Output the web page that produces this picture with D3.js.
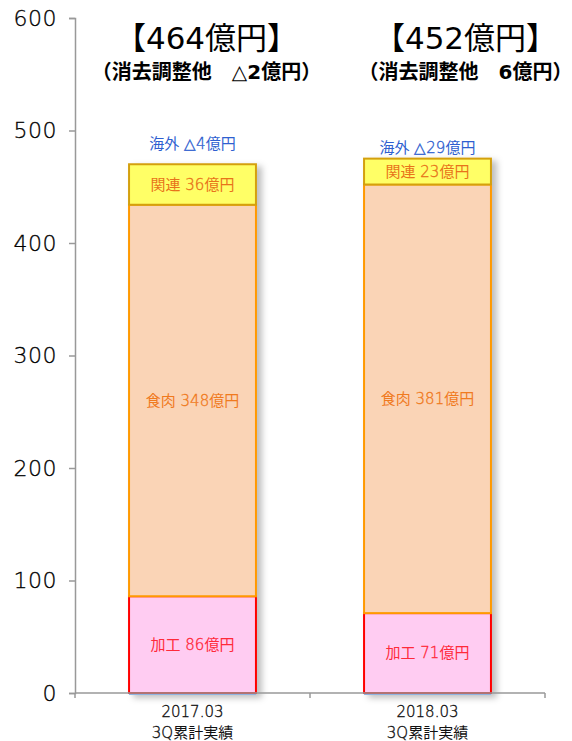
<!DOCTYPE html>
<html><head><meta charset="utf-8">
<script src="https://cdn.jsdelivr.net/npm/d3@7"></script>
<style>
body{margin:0;background:#fff;}
svg{display:block;font-family:"DejaVu Sans","Noto Sans CJK JP",sans-serif;}
</style></head><body>
<svg id="c" width="572" height="741"></svg>
<script>
const categories = ["2017.03\n3Q累計実績", "2018.03\n3Q累計実績"];
const kakou = [86, 71];
const shokuniku = [348, 381];
const kanren = [36, 23];
const kaigai = [-4, -29];
const shokyo = [-2, 6];
const totals = [464, 452];
const yTicks = [0, 100, 200, 300, 400, 500, 600];

const svg = d3.select("#c");
const mLeft = 75, mRight = 545, mTop = 18, mBottom = 693;
const y = d3.scaleLinear().domain([0, 600]).range([mBottom, mTop]);
const x = d3.scaleBand().domain(categories).range([mLeft, mRight]).paddingInner(0.46).paddingOuter(0.23);

const defs = svg.append("defs");
const f = defs.append("filter").attr("id","sh").attr("x","-20%").attr("y","-20%").attr("width","150%").attr("height","150%");
f.append("feDropShadow").attr("dx",5).attr("dy",3).attr("stdDeviation",3).attr("flood-color","#000").attr("flood-opacity",0.25);

// write text with latin digits in thin DejaVu, CJK in Noto
function rich(sel, str, color){
  const runs = str.match(/[\x20-\x7E△]+|[^\x20-\x7E△]+/g) || [];
  runs.forEach(r=>{
    const t = sel.append("tspan").text(r);
    if (/^[\x20-\x7E△]+$/.test(r)) {
      t.attr("font-family","'DejaVu Sans',sans-serif").attr("font-weight",200)
       .attr("stroke",color).attr("stroke-width",0.35);
    } else {
      t.attr("font-family","'Noto Sans CJK JP',sans-serif");
    }
  });
  return sel;
}

const ya = svg.append("g").attr("transform",`translate(${mLeft},0)`)
  .call(d3.axisLeft(y).tickValues(yTicks).tickSize(6).tickPadding(12));
ya.select(".domain").attr("stroke","#999").attr("stroke-width",1.5);
ya.selectAll(".tick line").attr("stroke","#999").attr("stroke-width",1.5);
ya.selectAll(".tick text").attr("font-size",22).attr("fill","#000").attr("font-family","'DejaVu Sans',sans-serif").attr("font-weight",200).attr("letter-spacing",0.5).attr("stroke","#000").attr("stroke-width",0.3);

const series = [
  {name:"加工", vals:kakou, fill:"#FFCCF2", stroke:"#FF0000", text:"#FF2A3A"},
  {name:"食肉", vals:shokuniku, fill:"#FAD4B6", stroke:"#FF9900", text:"#F07A1E"},
  {name:"関連", vals:kanren, fill:"#FFFF66", stroke:"#D4A010", text:"#E8731A"}
];

categories.forEach((c,i)=>{
  let base = 0;
  const g = svg.append("g").attr("filter","url(#sh)");
  g.append("rect").attr("x",x(c)).attr("y",y(0)).attr("width",x.bandwidth()).attr("height",2)
    .attr("fill","#8EB4E3").attr("stroke","none");
  const tops = [];
  series.forEach(s=>{
    const v = s.vals[i];
    g.append("rect").attr("x",x(c)).attr("y",y(base+v)).attr("width",x.bandwidth()).attr("height",y(base)-y(base+v))
      .attr("fill",s.fill).attr("stroke",s.stroke).attr("stroke-width",2);
    tops.push([base, base+v]);
    base += v;
  });
  series.forEach((s,k)=>{
    const [a,b] = tops[k];
    const t = svg.append("text").attr("x",x(c)+x.bandwidth()/2).attr("y",(y(a)+y(b))/2).attr("dy","0.35em")
      .attr("text-anchor","middle").attr("font-size",15).attr("fill",s.text);
    rich(t, `${s.name} ${s.vals[i]}億円`, s.text);
  });
  const fmt = v => v<0 ? `△${-v}` : `${v}`;
  const kt = svg.append("text").attr("x",x(c)+x.bandwidth()/2).attr("y",y(base)-(i===0?21:11)).attr("dy","0.35em")
    .attr("text-anchor","middle").attr("font-size",15).attr("fill","#2F5FD0");
  rich(kt, `海外 ${fmt(kaigai[i])}億円`, "#2F5FD0");
  const tx = x(c)+x.bandwidth()/2 + (i===0?14:38);
  svg.append("text").attr("x",tx).attr("y",38).attr("dy","0.35em").attr("text-anchor","middle")
    .attr("font-size",31).attr("fill","#000").text(`【${totals[i]}億円】`);
  svg.append("text").attr("x",tx).attr("y",72).attr("dy","0.35em").attr("text-anchor","middle")
    .attr("font-size",20).attr("font-weight","bold").attr("fill","#000")
    .text(`（消去調整他　${fmt(shokyo[i])}億円）`);
  const lines = c.split("\n");
  lines.forEach((l,j)=>{
    const ct = svg.append("text").attr("x",x(c)+x.bandwidth()/2).attr("y",712+j*21).attr("dy","0.35em")
      .attr("text-anchor","middle").attr("font-size",15).attr("fill","#111");
    rich(ct, l, "#111");
  });
});

const xg = svg.append("g");
xg.append("line").attr("x1",mLeft).attr("x2",mRight).attr("y1",mBottom).attr("y2",mBottom).attr("stroke","#999").attr("stroke-width",1.5);
[mLeft,(mLeft+mRight)/2,mRight].forEach(t=>xg.append("line").attr("x1",t).attr("x2",t).attr("y1",mBottom).attr("y2",mBottom+5).attr("stroke","#999").attr("stroke-width",1.5));
</script></body></html>
